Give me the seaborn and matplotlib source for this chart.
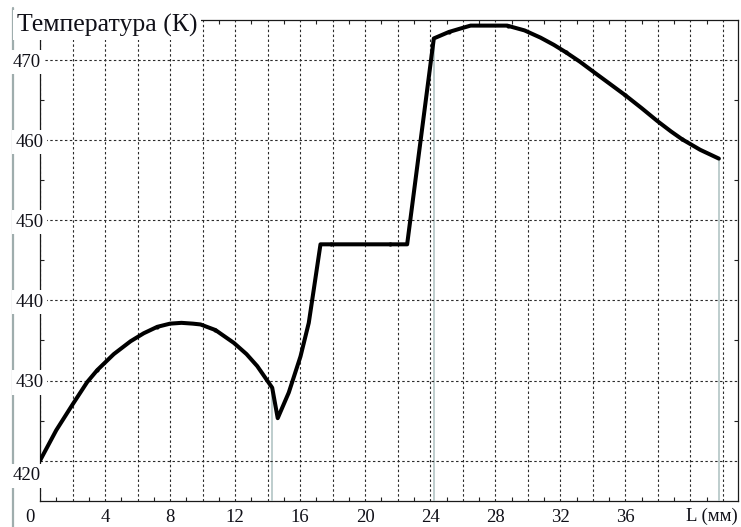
import numpy as np
import pandas as pd
import seaborn as sns
import matplotlib.pyplot as plt
from matplotlib.lines import Line2D
from matplotlib.transforms import ScaledTranslation

# Temperature profile along the length (L, mm -> T, K)
L_mm = [0.0, 1.0, 2.0, 2.9, 3.52, 4.54, 5.57, 6.38, 7.21, 8.0, 8.7, 9.4, 9.87, 10.79,
        11.92, 12.7, 13.36, 14.28, 14.62, 15.3, 16.02, 16.53, 16.84, 17.25, 22.58,
        24.22, 25.14, 25.8, 26.48, 28.73, 29.8, 30.78, 31.6, 32.32, 33.2, 34.06, 35.0,
        36.0, 37.0, 37.96, 38.8, 39.5, 40.6, 41.75]
T_K = [420.0, 423.8, 427.0, 429.8, 431.3, 433.3, 434.9, 435.9, 436.7, 437.1, 437.2, 437.1,
       437.0, 436.3, 434.7, 433.3, 431.8, 429.1, 425.3, 428.5, 433.0, 437.2, 441.4, 447.0,
       447.0, 472.7, 473.5, 473.9, 474.3, 474.3, 473.7, 472.8, 471.9, 471.0, 469.8, 468.5,
       467.1, 465.6, 464.0, 462.4, 461.1, 460.1, 458.8, 457.7]

# Measured points marked on the curve
L_meas = [3.52, 7.21, 10.79, 17.9, 21.5, 25.14, 28.8, 32.32, 36.0, 39.5]
T_meas = [431.3, 436.7, 436.3, 447.0, 447.0, 473.5, 474.2, 471.0, 465.6, 460.1]

# Section boundaries (drop lines to the axis)
L_drop = [14.28, 24.22, 41.75]
T_drop = [429.1, 472.7, 457.7]

x_ticks = list(range(0, 43, 2))
x_labels = [str(v) if (v % 4 == 0 and v <= 36) else "" for v in x_ticks]
y_ticks = [420, 430, 440, 450, 460, 470]
y_labels = [str(v) for v in y_ticks]

sns.set_theme(style="white")
plt.rcParams['font.family'] = ['Liberation Serif', 'DejaVu Serif']

W, H = 741, 527
fig = plt.figure(figsize=(W / 100, H / 100), dpi=100)
ax = fig.add_axes([40 / W, 1 - 500.7 / H, (738 - 40) / W, (500.7 - 20) / H])

# light vertical rule at the far left of the figure
fig.add_artist(Line2D([13.5 / W, 13.5 / W], [1 - 8 / H, 0], color='#9fadad', lw=1.6, zorder=-1))

df = pd.DataFrame({'L': L_mm, 'T': T_K})
ax.vlines(L_drop, 415, T_drop, colors='#b9c9c9', lw=1.3, zorder=3)
sns.lineplot(data=df, x='L', y='T', sort=False, estimator=None, color='black',
             lw=2.9, ax=ax, zorder=4, solid_capstyle='round', solid_joinstyle='round')
sns.scatterplot(x=L_meas, y=T_meas, color='black', s=9, linewidth=0, ax=ax, zorder=5)

ax.set_xlim(0, (738 - 40) / 16.26)
ax.set_ylim(415, 475)
ax.set_xlabel('')
ax.set_ylabel('')

ax.set_xticks(x_ticks)
ax.set_xticklabels(x_labels, fontsize=13.5, color='#101018')
ax.set_xticks(list(range(1, 43, 2)), minor=True)
ax.set_yticks(y_ticks)
ax.set_yticklabels(y_labels, fontsize=13.5, color='#101018')
ax.set_yticks([425, 435, 445, 455, 465], minor=True)

ax.grid(which='major', axis='both', color='#2a2a2a', lw=0.8, linestyle=(0, (2.2, 2.2)))
ax.grid(which='minor', visible=False)

ax.tick_params(axis='x', which='major', length=0, pad=6)
ax.tick_params(axis='y', which='major', length=0, pad=-2.5)
ax.tick_params(which='minor', direction='in', length=3, width=0.8, color='#222222',
               top=True, bottom=True, left=True, right=True)

for s in ax.spines.values():
    s.set_visible(True)
    s.set_color('#1a1a1a')
    s.set_linewidth(0.9)

# y labels sit on the left spine with a white backing
ax.yaxis.set_zorder(3)
for lab in ax.get_yticklabels():
    lab.set_bbox(dict(facecolor='white', edgecolor='none', pad=2.5))
ylabs = ax.get_yticklabels()
ylabs[0].set_transform(ylabs[0].get_transform() + ScaledTranslation(-3 / 100, -13 / 100, fig.dpi_scale_trans))
ylabs[-1].set_transform(ylabs[-1].get_transform() + ScaledTranslation(-3 / 100, 0, fig.dpi_scale_trans))
xlabs = ax.get_xticklabels()
xlabs[0].set_transform(xlabs[0].get_transform() + ScaledTranslation(-10 / 100, 0, fig.dpi_scale_trans))

ax.annotate('L (мм)', xy=(1, 0), xycoords='axes fraction', xytext=(0, -16),
            textcoords='offset pixels', ha='right', va='center', fontsize=13.5, color='#101018')

fig.text(17 / W, 1 - 25 / H, 'Температура (К)', ha='left', va='center', fontsize=18.5,
         color='#101018', bbox=dict(facecolor='white', edgecolor='none', pad=2.5), zorder=10)

fig.savefig('out.png', dpi=100, facecolor='white')
